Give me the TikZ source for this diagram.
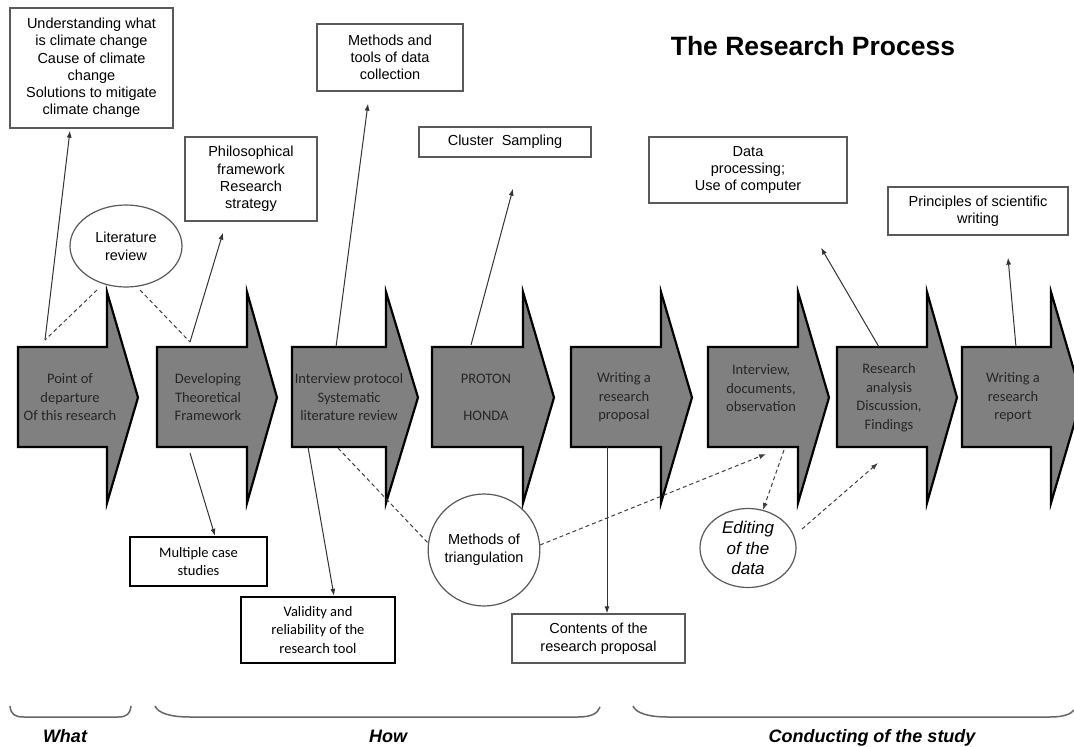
\documentclass[tikz,border=0pt]{standalone}
\usepackage{fontspec}
\setmainfont{Liberation Sans}
\newfontfamily\carl{Carlito}
\usetikzlibrary{shapes.geometric,arrows.meta,calc}
\tikzset{
  box/.style={draw=black!65,line width=1.3pt,inner sep=0pt,align=center,font=\fontsize{14.5}{17.2}\selectfont},
  thickbox/.style={draw=black,line width=2.3pt,inner sep=0pt,align=center,font=\carl\fontsize{14.5}{18.5}\selectfont},
  oval/.style={ellipse,draw=black!65,line width=1.2pt,inner sep=0pt,align=center,font=\fontsize{14.5}{18}\selectfont},
  arrowshape/.style={fill=black!50,draw=black,line width=2.2pt,line join=miter},
  arrowtext/.style={align=center,inner sep=0pt,text=black!85,font=\carl\fontsize{14.5}{18.5}\selectfont},
  conn/.style={draw=black!80,line width=1pt,-{Latex[length=7pt,width=5pt]}},
  dline/.style={draw=black!75,line width=1pt,dash pattern=on 4pt off 3pt},
  darrow/.style={dline,-{Latex[length=7pt,width=5pt]}},
  brace/.style={draw=black!60,line width=1.5pt},
  bottomlabel/.style={font=\bfseries\itshape\fontsize{18}{20}\selectfont,inner sep=0pt,anchor=base}
}
\newcommand{\procarrow}[3]{% left x, body width, tip length
  \draw[arrowshape] (#1,347) -- (#1+#2,347) -- (#1+#2,292) -- (#1+#2+#3,397.5) -- (#1+#2,503) -- (#1+#2,447) -- (#1,447) -- cycle;
}
\begin{document}
\begin{tikzpicture}[x=1pt,y=-1pt]
\useasboundingbox (0,0) rectangle (1074,747);
\clip (0,0) rectangle (1074,747);
\fill[white] (0,0) rectangle (1074,747);

% process arrows
\procarrow{18}{89}{31}
\procarrow{157}{90}{30}
\procarrow{292}{94}{32}
\procarrow{432}{91}{31}
\procarrow{571}{90}{31}
\procarrow{708}{90}{31}
\procarrow{837}{90}{30}
\procarrow{962}{89}{31}

\node[arrowtext] (a1) at (70,397.5) {Point of\\departure\\Of this research};
\node[arrowtext] (a2) at (208,397.5) {Developing\\Theoretical\\Framework};
\node[arrowtext] (a3) at (349,397.5) {Interview protocol\\Systematic\\literature review};
\node[arrowtext] (a4) at (486,397.5) {PROTON\\[18.5pt]HONDA};
\node[arrowtext] (a5) at (624,397.5) {Writing a\\research\\proposal};
\node[arrowtext] (a6) at (761,388.5) {Interview,\\documents,\\observation};
\node[arrowtext] (a7) at (889,397.5) {Research\\analysis\\Discussion,\\Findings};
\node[arrowtext] (a8) at (1013,397.5) {Writing a\\research\\report};

% title
\node[font=\bfseries\fontsize{26.5}{30}\selectfont,inner sep=0pt] (title) at (813,46) {The Research Process};

% upper boxes
\node[box,minimum width=163pt,minimum height=120pt] (und) at (91.5,68) {Understanding what\\is climate change\\Cause of climate\\change\\Solutions to mitigate\\climate change};
\node[box,minimum width=132pt,minimum height=84pt] (phil) at (251,179) {Philosophical\\framework\\Research\\strategy};
\node[box,minimum width=146pt,minimum height=67pt] (meth) at (390,57.5) {Methods and\\tools of data\\collection};
\node[box,minimum width=172pt,minimum height=30pt] (clus) at (505,142) {Cluster\ \ Sampling};
\node[box,minimum width=198pt,minimum height=66pt] (data) at (748,170) {Data\\processing;\\Use of computer};
\node[box,minimum width=180pt,minimum height=48pt] (princ) at (978,211) {Principles of scientific\\writing};
\node[oval,minimum width=112pt,minimum height=82pt] (lit) at (126,246) {Literature\\review};

% lower boxes
\node[thickbox,minimum width=137pt,minimum height=49pt] (multi) at (198.5,561.5) {Multiple case\\studies};
\node[thickbox,minimum width=154pt,minimum height=66pt] (valid) at (318,630) {Validity and\\reliability of the\\research tool};
\node[box,minimum width=173pt,minimum height=49pt,font=\fontsize{14.5}{18}\selectfont] (cont) at (598.5,638.5) {Contents of the\\research proposal};
\node[oval,minimum width=111pt,minimum height=112pt] (tri) at (484,550) {Methods of\\triangulation};
\node[oval,minimum width=96pt,minimum height=79pt,font=\itshape\fontsize{17}{20.5}\selectfont] (edit) at (748,548) {Editing\\of the\\data};

% connector end points on the process arrows
\coordinate (q1) at (45,340);
\coordinate (q2) at (190,342);
\coordinate (q3) at (336,347);
\coordinate (q4) at (471,345);
\coordinate (q5) at (879,347);
\coordinate (q6) at (1016,347);
\coordinate (r1) at (190,453);
\coordinate (r2) at (308,447);
\coordinate (r3) at (338,448);
\coordinate (r4) at (607,447);
\coordinate (r5) at (766,454);
\coordinate (r6) at (784,450);
\coordinate (r7) at (878,463);

% upward connectors
\draw[conn] (q1) -- ($(und.south)+(-21.5,2)$);
\draw[dline] ($(lit.center)+(-29,44)$) -- (q1);
\draw[dline] ($(lit.center)+(14,44)$) -- (q2);
\draw[conn] (q2) -- ($(phil.south)+(-28,11)$);
\draw[conn] (q3) -- ($(meth.south)+(-22,12)$);
\draw[conn] (q4) -- ($(clus.south)+(8,31)$);
\draw[conn] (q5) -- ($(data.south)+(73,44)$);
\draw[conn] (q6) -- ($(princ.south)+(30,22)$);

% downward connectors
\draw[conn] (r1) -- ($(multi.north)+(16.5,0)$);
\draw[conn] (r2) -- ($(valid.north)+(16,0)$);
\draw[dline] (r3) -- ($(tri.center)+(-56,-7)$);
\draw[conn] (r4) -- ($(cont.north)+(8.5,0)$);
\draw[darrow] ($(tri.center)+(56,-5)$) -- (r5);
\draw[darrow] (r6) -- ($(edit.north)+(15,2)$);
\draw[darrow] ($(edit.center)+(54,-19)$) -- (r7);

% bottom braces
\draw[brace] (10,706) .. controls (11,714) and (14,717) .. (24,717) -- (118,717) .. controls (127,717) and (130,714) .. (131,706);
\draw[brace] (155,706) .. controls (158,713) and (170,717) .. (190,717) -- (578,717) .. controls (592,717) and (598,713) .. (600,707);
\draw[brace] (633,706) .. controls (636,713) and (648,717) .. (668,717) -- (1050,717) .. controls (1064,717) and (1071,714) .. (1074,710);

\node[bottomlabel] (what) at (65,742) {What};
\node[bottomlabel] (how) at (388,742) {How};
\node[bottomlabel] (cond) at (872,742) {Conducting of the study};
\end{tikzpicture}
\end{document}
